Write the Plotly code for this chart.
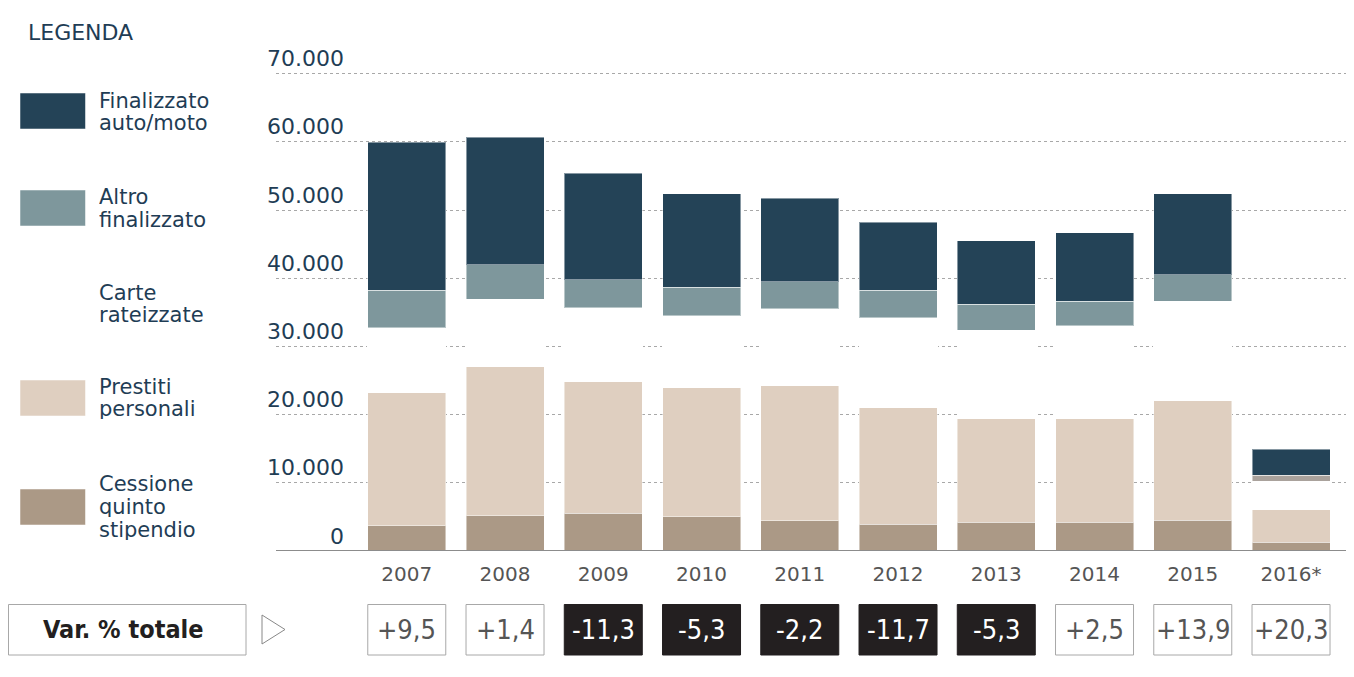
import plotly.graph_objects as go

# Credito al consumo per tipologia (milioni di euro)
years = ['2007', '2008', '2009', '2010', '2011', '2012', '2013', '2014', '2015', '2016*']
cessione = [3700, 5200, 5500, 5000, 4400, 3900, 4200, 4200, 4500, 1300]
prestiti = [19600, 21800, 19400, 19000, 19900, 17200, 15300, 15300, 17600, 4800]
carte = [9400, 9900, 10800, 10500, 11200, 13100, 12900, 13500, 14500, 4100]
altro = [5500, 5100, 4100, 4200, 4000, 4000, 3800, 3600, 3900, 900]
finalizzato = [21700, 18700, 15600, 13700, 12200, 10000, 9300, 10100, 11900, 3800]
var_totale = [9.5, 1.4, -11.3, -5.3, -2.2, -11.7, -5.3, 2.5, 13.9, 20.3]
y_ticks = [0, 10000, 20000, 30000, 40000, 50000, 60000, 70000]

# la pagina ha un margine di 8px: le coordinate sotto sono quelle dello schermo
OFF = 8
W, H = 1354 - OFF, 677 - OFF
NAVY = '#244357'
TEXT = '#1f3d55'
FONT = 'DejaVu Sans'
COND = 'DejaVu Sans Condensed, Roboto Condensed, Liberation Sans Narrow, Roboto'


def px(x):
    return (x - OFF) / W


def py(y):
    return 1 - (y - OFF) / H


edge = dict(color='rgba(255,255,255,0.45)', width=1)
altro_colors = ['#7e979c'] * (len(years) - 1) + ['#aaa29c']

data = [
    go.Bar(x=years, y=cessione, name='Cessione quinto stipendio',
           marker=dict(color='#ab9986', line=edge)),
    go.Bar(x=years, y=prestiti, name='Prestiti personali',
           marker=dict(color='#dfcfc0', line=edge)),
    go.Bar(x=years, y=carte, name='Carte rateizzate',
           marker=dict(color='#ffffff', line=dict(color='#ffffff', width=1))),
    go.Bar(x=years, y=altro, name='Altro finalizzato',
           marker=dict(color=altro_colors, line=edge)),
    go.Bar(x=years, y=finalizzato, name='Finalizzato auto/moto',
           marker=dict(color=NAVY, line=edge)),
]

shapes = []
annotations = []

# linea di base
shapes.append(dict(type='line', xref='paper', yref='y', x0=px(276), x1=1,
                   y0=0, y1=0, line=dict(color='#8c8c8c', width=2), layer='above'))

# etichette asse y sopra le griglie
for v in y_ticks:
    lab = '{:,}'.format(v).replace(',', '.')
    annotations.append(dict(xref='paper', yref='y', x=px(346), y=v, xanchor='right',
                            yanchor='middle', yshift=15, text=lab, showarrow=False,
                            font=dict(family=FONT, size=22, color=TEXT)))

# legenda personalizzata
annotations.append(dict(xref='paper', yref='paper', x=px(26), y=py(33), xanchor='left',
                        yanchor='middle', text='LEGENDA', showarrow=False,
                        font=dict(family=FONT, size=22, color=TEXT)))
legend_items = [
    (NAVY, 93, ['Finalizzato', 'auto/moto'], [100, 122]),
    ('#7e979c', 190, ['Altro', 'finalizzato'], [197, 219]),
    (None, 0, ['Carte', 'rateizzate'], [292, 314]),
    ('#dfcfc0', 380, ['Prestiti', 'personali'], [386, 408]),
    ('#ab9986', 489, ['Cessione', 'quinto', 'stipendio'], [483, 506, 529]),
]
for color, top, lines, ys in legend_items:
    if color:
        shapes.append(dict(type='rect', xref='paper', yref='paper', x0=px(20), x1=px(85.5),
                           y0=py(top + 36), y1=py(top), fillcolor=color,
                           line=dict(color='rgba(255,255,255,0.5)', width=1)))
    for t, yy in zip(lines, ys):
        annotations.append(dict(xref='paper', yref='paper', x=px(98), y=py(yy),
                                xanchor='left', yanchor='middle', text=t, showarrow=False,
                                height=21, borderpad=0,
                                font=dict(family=FONT, size=21, color=TEXT)))

# riga variazioni
shapes.append(dict(type='rect', xref='paper', yref='paper', x0=px(OFF + 0.5), x1=px(246),
                   y0=py(655), y1=py(604.5), fillcolor='white',
                   line=dict(color='#a8a8a8', width=1)))
annotations.append(dict(xref='paper', yref='paper', x=px(123), y=py(629.5),
                        xanchor='center', yanchor='middle', text='<b>Var. % totale</b>',
                        showarrow=False, font=dict(family=COND, size=25, color='#231f20')))
shapes.append(dict(type='path', xref='paper', yref='paper',
                   path='M {} {} L {} {} L {} {} Z'.format(px(262), py(615), px(262), py(644),
                                                            px(285), py(629.5)),
                   fillcolor='white', line=dict(color='#888888', width=1)))
for i, v in enumerate(var_totale):
    neg = v < 0
    shapes.append(dict(type='rect', xref='x', yref='paper', x0=i - 0.397, x1=i + 0.397,
                       y0=py(655), y1=py(604.5),
                       fillcolor='#231f20' if neg else 'white',
                       line=dict(color='#231f20' if neg else '#a8a8a8', width=1)))
    txt = ('{:+.1f}'.format(v)).replace('.', ',')
    annotations.append(dict(xref='x', yref='paper', x=i, y=py(629.5), xanchor='center',
                            yanchor='middle', text=txt, showarrow=False,
                            font=dict(family=COND, size=27,
                                      color='white' if neg else '#555555')))

layout = go.Layout(
    width=W, height=H,
    barmode='stack', bargap=0.206,
    showlegend=False,
    plot_bgcolor='white', paper_bgcolor='white',
    margin=dict(l=0, r=0, t=0, b=0),
    xaxis=dict(type='category', range=[-1.331, 9.641], domain=[px(276), 1],
               showgrid=False, showline=False, zeroline=False, ticks='',
               ticklabelstandoff=9,
               tickfont=dict(family=FONT, size=20, color='#555555')),
    yaxis=dict(range=[0, 72000], domain=[py(551), py(551 - 72 * 6.82)],
               tickvals=y_ticks[1:], showticklabels=False, zeroline=False,
               showgrid=True, gridcolor='#a8a8a8', griddash='dot', gridwidth=1),
    shapes=shapes, annotations=annotations,
)

fig = go.Figure(data=data, layout=layout)
fig.write_html('out.html')
